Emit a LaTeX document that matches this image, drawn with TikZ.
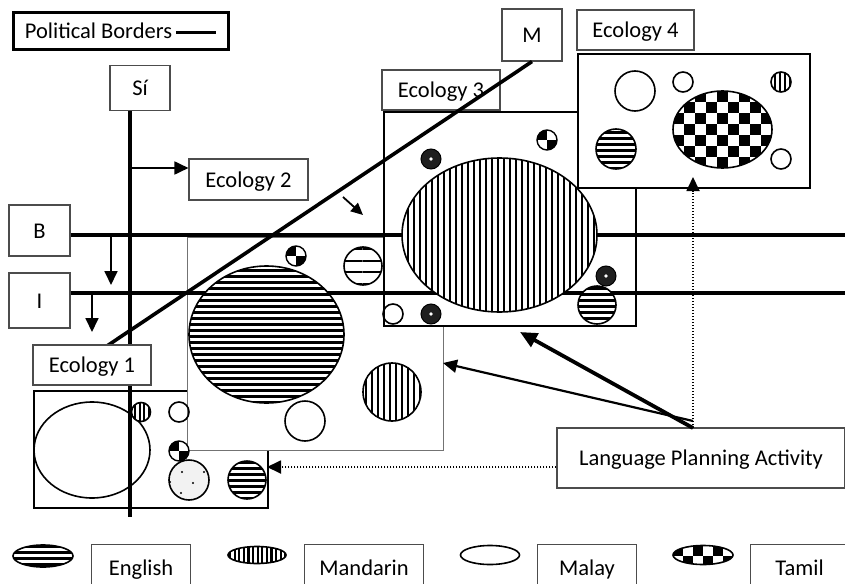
\documentclass[tikz,border=0pt]{standalone}
\usepackage{fontspec}
\setmainfont{Carlito}
\usetikzlibrary{arrows.meta,patterns.meta}

\begin{document}
\begin{tikzpicture}[x=1pt,y=-1pt,
  tag/.style={draw=black!70,line width=1.1pt,fill=white,inner sep=0pt,text height=17pt,text depth=2pt,font=\fontsize{22.5}{26}\selectfont},
  region/.style={draw,line width=1.8pt,fill=white,inner sep=0pt,anchor=north west},
  frontier/.style={line width=3.6pt},
  feed/.style={-{Triangle[length=14pt,width=13pt]},line width=1.8pt},
  push/.style={-{Triangle[length=17pt,width=15pt]},line width=3.8pt},
  hint/.style={-{Triangle[length=14pt,width=13pt]},line width=1.8pt,dash pattern=on 1.4pt off 1.6pt},
  malay/.style={draw,line width=1.6pt},
  english/.style={draw,line width=1.6pt,preaction={fill=white},pattern={Lines[distance=6pt,line width=3pt]}},
  mandarin/.style={draw,line width=1.6pt,preaction={fill=white},pattern={Lines[angle=90,distance=6pt,line width=2.6pt]}},
  darkdot/.style={draw,line width=1pt,fill=black!88}
]
\useasboundingbox (0,0) rectangle (845,583);

% ecology regions, back to front
\node[region,minimum width=234,minimum height=117] (eco1) at (33,390) {};
\node[region,draw=black!55,line width=1.4pt,minimum width=256,minimum height=213] (eco2) at (187,237) {};
\node[region,minimum width=252,minimum height=214] (eco3) at (383,111) {};
\node[region,minimum width=232,minimum height=134] (eco4) at (577,53) {};

% labels
\node[tag,draw=black,line width=3pt,minimum width=215,minimum height=37] (borders) at (120.5,31.5)
  {Political Borders\hspace{4pt}\rule[0.22em]{40pt}{3pt}};
\node[tag,minimum width=60,minimum height=45] (si) at (140,88) {Sí};
\node[tag,minimum width=61,minimum height=51] (bnode) at (39.5,230.5) {B};
\node[tag,minimum width=61,minimum height=55] (inode) at (39.5,300.5) {I};
\node[tag,minimum width=60,minimum height=52] (mnode) at (532,35) {M};
\node[tag,minimum width=119,minimum height=41] (eco2lab) at (248.5,179.5) {Ecology 2};
\node[tag,minimum width=118,minimum height=40] (eco3lab) at (441,90) {Ecology 3};
\node[tag,minimum width=117,minimum height=40] (eco4lab) at (635.5,30) {Ecology 4};
\node[tag,minimum width=288,minimum height=60] (lpa) at (701,458) {Language Planning Activity};

% borders
\coordinate (siend) at (130,517);
\coordinate (bend) at (845,235);
\coordinate (iend) at (845,293);
\coordinate (mend) at (80,364);
\draw[frontier] (si.south -| siend) -- (siend);
\draw[frontier] (bnode.east |- bend) -- (bend);
\draw[frontier] (inode.east |- iend) -- (iend);
\draw[frontier] (mnode.south) -- (mend);
\node[tag,minimum width=118,minimum height=40] (eco1lab) at (92,365) {Ecology 1};

% Ecology 1
\draw[malay] (92,450) ellipse (58 and 48);
\draw[mandarin,pattern={Lines[angle=90,distance=4.5pt,line width=2pt]}] (141,412) circle (9.5);
\draw[malay] (179,412) circle (10);
\draw[line width=1.6pt,fill=black!5] (189,480) circle (20);
\foreach \dx/\dy in {-7/-8,15/-8,4/3,-8/13,-19/2}
  \fill ({189+\dx},{480+\dy}) circle (1.1);
\draw[english] (247,480) circle (19);

% Ecology 2
\draw[english] (266.5,334.5) ellipse (77.5 and 68.5);
\draw[english,pattern={Lines[distance=11.5pt,line width=2pt]}] (363,266) circle (19);
\draw[mandarin,pattern={Lines[angle=90,distance=6pt,line width=2pt]}] (392,392) circle (29);
\draw[malay] (305,421) circle (20);

% Ecology 3
\draw[mandarin] (499.5,235) ellipse (97.5 and 77);
\draw[english] (597,305) circle (19);
\draw[malay] (393,314) circle (10);
\foreach \cx/\cy in {431/159,606/276,431/314}{
  \draw[darkdot] (\cx,\cy) circle (10);
  \fill[white] (\cx,\cy) circle (1.8);
}

% small Tamil quarters
\foreach \cx/\cy in {179/451,296/256,547/140}{
  \begin{scope}
    \clip (\cx,\cy) circle (10);
    \fill[white] (\cx,\cy) circle (10);
    \fill ({\cx-10},{\cy-10}) rectangle (\cx,\cy);
    \fill (\cx,\cy) rectangle ({\cx+10},{\cy+10});
  \end{scope}
  \draw[line width=1.4pt] (\cx,\cy) circle (10);
}

% Ecology 4
\draw[malay] (635,91) circle (20);
\draw[malay] (683,82) circle (10);
\draw[malay] (781,159) circle (10);
\draw[mandarin,pattern={Lines[angle=90,distance=5pt,line width=2pt]}] (781,82) circle (10);
\draw[english] (616,149) circle (20);
\begin{scope}
  \clip (722.5,129.5) ellipse (49.5 and 38.5);
  \fill[white] (673,91) rectangle (772,168);
  \foreach \i in {0,2,...,8}
    \foreach \j in {0,2,...,6}{
      \fill ({673+11*\i},{91+11*\j}) rectangle ++(11,11);
      \fill ({684+11*\i},{102+11*\j}) rectangle ++(11,11);
    }
\end{scope}
\draw[line width=1.6pt] (722.5,129.5) ellipse (49.5 and 38.5);

% arrows
\coordinate (sibranch) at (130,168);
\coordinate (bdrop) at (111,235);
\coordinate (idrop) at (92,293);
\coordinate (mbranch) at (343,197);
\draw[feed] (sibranch) -- (sibranch -| eco2lab.west);
\draw[feed] (bdrop) -- ++(0,50);
\draw[feed] (idrop) -- ++(0,39);
\draw[feed,-{Triangle[length=12pt,width=11pt]}] (mbranch) -- ++(20,18);

\coordinate (lpsrc) at (693,428);
\coordinate (lpsrc2) at (693,421);
\coordinate (to1) at (267,467);
\coordinate (to2) at (443,363);
\coordinate (to3) at (520,332);
\coordinate (to4) at (693,177);
\draw[hint] (lpa.west |- to1) -- (to1);
\draw[hint] (lpsrc) -- (to4);
\draw[feed,line width=2.2pt] (lpsrc2) -- (to2);
\draw[push] (lpsrc) -- (to3);

% legend
\draw[english] (43,556) ellipse (30 and 11);
\node[tag,anchor=north west,minimum width=99,minimum height=46] (englishkey) at (91,544) {English};
\draw[mandarin,pattern={Lines[angle=90,distance=4.6pt,line width=2.2pt]}] (257,555) ellipse (29 and 8.5);
\node[tag,anchor=north west,minimum width=119,minimum height=46] (mandarinkey) at (304,544) {Mandarin};
\draw[malay] (490,555) ellipse (29.5 and 9.5);
\node[tag,anchor=north west,minimum width=99,minimum height=46] (malaykey) at (537,544) {Malay};
\begin{scope}
  \clip (703,555) ellipse (30 and 9.5);
  \fill[white] (673,545) rectangle (733,566);
  \foreach \i in {0,2,4}{
    \fill ({673+10*\i},545.5) rectangle ++(10,10);
    \fill ({683+10*\i},555.5) rectangle ++(10,10);
  }
\end{scope}
\draw[line width=1.6pt] (703,555) ellipse (30 and 9.5);
\node[tag,anchor=north west,minimum width=98,minimum height=46] (tamilkey) at (750,544) {Tamil};
\end{tikzpicture}
\end{document}
